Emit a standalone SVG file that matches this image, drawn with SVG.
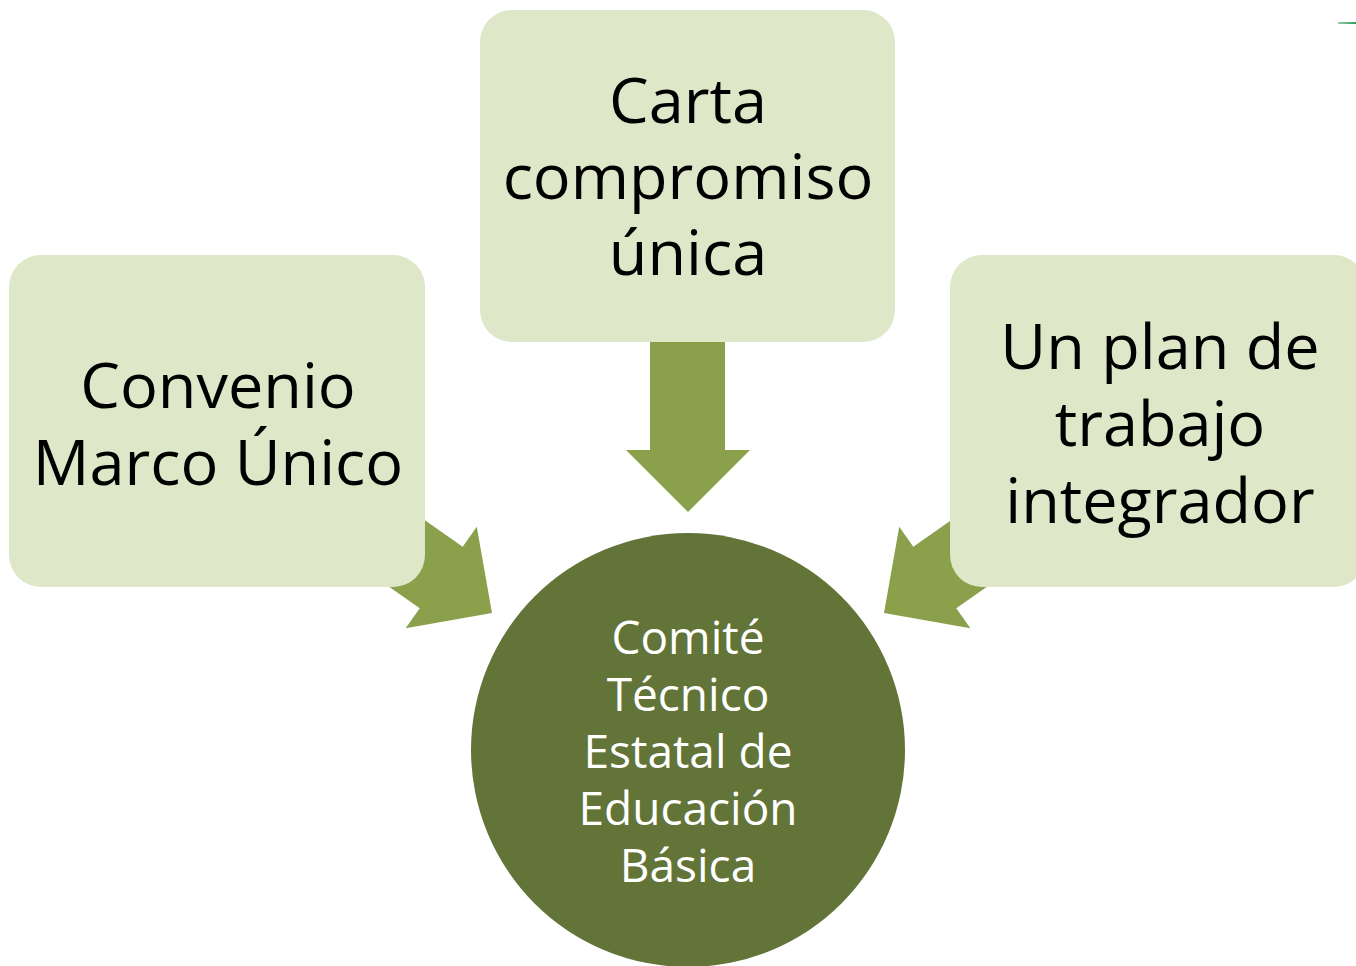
<svg xmlns="http://www.w3.org/2000/svg" width="1356" height="966" viewBox="0 0 1356 966">
  <defs>
    <style>
      .box { fill: #DFE7C9; }
      .arrow { fill: #8AA04B; }
      .hub { fill: #627437; }
      .t { font-family: "Open Sans", "Noto Sans", "Liberation Sans", sans-serif; text-anchor: middle; }
      .tb { font-size: 63px; fill: #000000; }
      .tc { font-size: 46px; fill: #FFFFFF; }
    </style>
    <polygon id="arr" points="0,0 -62,-62 -62,-37.5 -175,-37.5 -175,37.5 -62,37.5 -62,62"/>
    <linearGradient id="lg" x1="0" y1="0" x2="1" y2="0">
      <stop offset="0" stop-color="#9CCBAE"/>
      <stop offset="1" stop-color="#2E9E5A"/>
    </linearGradient>
  </defs>
  <rect width="1356" height="966" fill="#FFFFFF"/>
  <g id="connectors">
    <polygon class="arrow" points="650,330 725,330 725,450 750,450 688,512 626,450 650,450"/>
    <use href="#arr" class="arrow" transform="translate(492,613) rotate(35)"/>
    <use href="#arr" class="arrow" transform="translate(884,613) scale(-1,1) rotate(35)"/>
  </g>
  <g id="hub">
    <circle class="hub" cx="688" cy="750" r="217"/>
    <text class="t tc" x="688" y="654">Comité</text>
    <text class="t tc" x="688" y="711">Técnico</text>
    <text class="t tc" x="688" y="768">Estatal de</text>
    <text class="t tc" x="688" y="825">Educación</text>
    <text class="t tc" x="688" y="882">Básica</text>
  </g>
  <g id="node-carta">
    <rect class="box" x="480" y="10" width="415" height="332" rx="32"/>
    <text class="t tb" x="688" y="123">Carta</text>
    <text class="t tb" x="688" y="199">compromiso</text>
    <text class="t tb" x="688" y="275">única</text>
  </g>
  <g id="node-convenio">
    <rect class="box" x="9" y="255" width="416" height="332" rx="32"/>
    <text class="t tb" x="218" y="408">Convenio</text>
    <text class="t tb" x="218" y="485">Marco Único</text>
  </g>
  <g id="node-plan">
    <rect class="box" x="950" y="255" width="416" height="332" rx="32"/>
    <text class="t tb" x="1160" y="369">Un plan de</text>
    <text class="t tb" x="1160" y="446">trabajo</text>
    <text class="t tb" x="1160" y="523">integrador</text>
  </g>
  <rect x="1338" y="22" width="18" height="2" fill="url(#lg)"/>
</svg>
